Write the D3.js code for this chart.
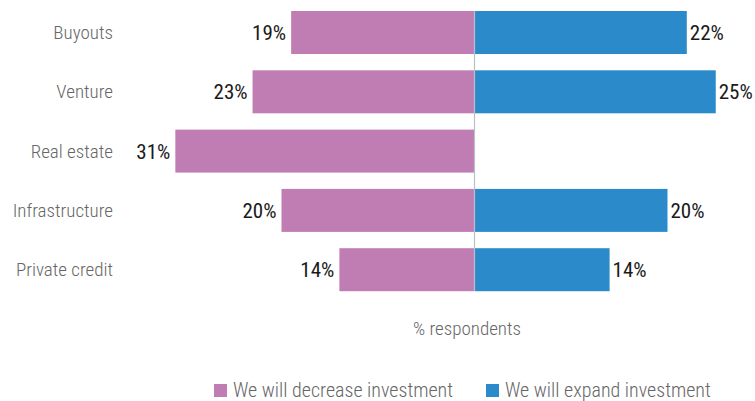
<!DOCTYPE html>
<html>
<head>
<meta charset="utf-8">
<script src="https://cdn.jsdelivr.net/npm/d3@7"></script>
<style>
  html, body { margin: 0; padding: 0; background: #fff; }
  svg { display: block; }
  .cond { font-family: "Liberation Sans Narrow", "Roboto Condensed", "DejaVu Sans Condensed", Roboto, sans-serif; }
</style>
</head>
<body>
<svg id="chart" width="755" height="401"></svg>
<script>
// Survey: planned change in allocation by asset class (% respondents)
const categories = ["Buyouts", "Venture", "Real estate", "Infrastructure", "Private credit"];
const decrease = [19, 23, 31, 20, 14];
const expand = [22, 25, null, 20, 14];
const seriesNames = ["We will decrease investment", "We will expand investment"];
const seriesColors = ["#bf7db4", "#2b8bca"];
const axisTitle = "% respondents";

const svg = d3.select("#chart");

const center = 474.5;
const pxPerPct = 9.65;
const x = d3.scaleLinear()
  .domain([-32, 27])
  .range([center - 32 * pxPerPct, center + 27 * pxPerPct]);

const y = d3.scaleBand()
  .domain(categories)
  .range([2.85, 299.35])
  .paddingInner(0.275)
  .paddingOuter(0.1375);

const rows = categories.map((c, i) => ({ cat: c, dec: decrease[i], exp: expand[i] }));

// decrease bars extend left from zero
svg.append("g").selectAll("rect")
  .data(rows)
  .join("rect")
  .attr("x", d => x(-d.dec))
  .attr("y", d => y(d.cat))
  .attr("width", d => x(0) - x(-d.dec))
  .attr("height", y.bandwidth())
  .attr("fill", seriesColors[0]);

// expand bars extend right from zero
svg.append("g").selectAll("rect")
  .data(rows.filter(d => d.exp != null))
  .join("rect")
  .attr("x", x(0) + 0.5)
  .attr("y", d => y(d.cat))
  .attr("width", d => x(d.exp) - x(0) - 0.5)
  .attr("height", y.bandwidth())
  .attr("fill", seriesColors[1]);

// zero line
svg.append("line")
  .attr("x1", x(0)).attr("x2", x(0))
  .attr("y1", y(categories[0]))
  .attr("y2", y(categories[categories.length - 1]) + y.bandwidth())
  .attr("stroke", "#b9c0c6")
  .attr("stroke-width", 1.2);

// category labels
svg.append("g").selectAll("text")
  .data(rows)
  .join("text")
  .attr("class", "cond")
  .attr("x", 113)
  .attr("y", d => y(d.cat) + y.bandwidth() / 2)
  .attr("dy", "0.35em")
  .attr("text-anchor", "end")
  .attr("font-size", 19)
  .attr("font-weight", 300)
  .attr("fill", "#666666")
  .text(d => d.cat);

// value labels
svg.append("g").selectAll("text")
  .data(rows)
  .join("text")
  .attr("class", "cond")
  .attr("x", d => x(-d.dec) - 5)
  .attr("y", d => y(d.cat) + y.bandwidth() / 2)
  .attr("dy", "0.36em")
  .attr("text-anchor", "end")
  .attr("font-size", 21)
  .attr("fill", "#1a1a1a")
  .text(d => d.dec + "%");

svg.append("g").selectAll("text")
  .data(rows.filter(d => d.exp != null))
  .join("text")
  .attr("class", "cond")
  .attr("x", d => x(d.exp) + 3)
  .attr("y", d => y(d.cat) + y.bandwidth() / 2)
  .attr("dy", "0.36em")
  .attr("text-anchor", "start")
  .attr("font-size", 21)
  .attr("fill", "#1a1a1a")
  .text(d => d.exp + "%");

// axis title
svg.append("text")
  .attr("class", "cond")
  .attr("x", 467)
  .attr("y", 335)
  .attr("text-anchor", "middle")
  .attr("font-size", 19)
  .attr("font-weight", 300)
  .attr("fill", "#666666")
  .text(axisTitle);

// legend
const legendX = [214, 486];
const lg = svg.append("g").selectAll("g")
  .data(seriesNames)
  .join("g")
  .attr("transform", (d, i) => `translate(${legendX[i]},384)`);
lg.append("rect")
  .attr("width", 13).attr("height", 13)
  .attr("fill", (d, i) => seriesColors[i]);
lg.append("text")
  .attr("class", "cond")
  .attr("x", 19)
  .attr("y", 12.5)
  .attr("font-size", 20)
  .attr("font-weight", 300)
  .attr("fill", "#666666")
  .text(d => d);
</script>
</body>
</html>
